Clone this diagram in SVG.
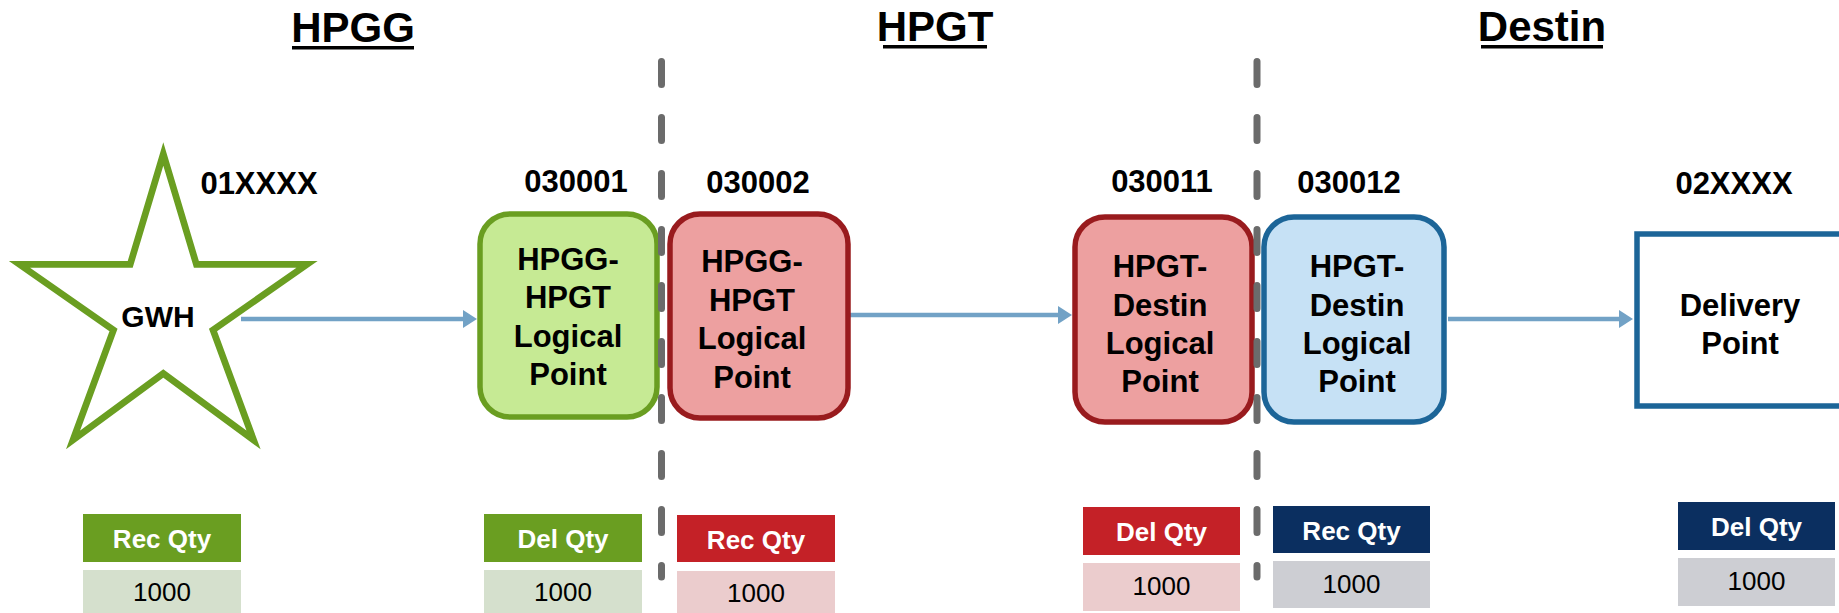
<svg xmlns="http://www.w3.org/2000/svg" width="1839" height="613" viewBox="0 0 1839 613">
<style>
text{font-family:"Liberation Sans",Arial,sans-serif;fill:#000}
.title{font-size:42px;font-weight:bold;text-anchor:middle}
.code{font-size:31px;font-weight:bold;text-anchor:middle}
.node{font-size:31px;font-weight:bold;text-anchor:middle}
.hdr{font-size:26px;font-weight:bold;text-anchor:middle;fill:#fff}
.val{font-size:26px;text-anchor:middle}
.ul{fill:#000}
.conn{stroke:#72a2c6;stroke-width:4.5;fill:none}
.sep{stroke:#6b6b6b;stroke-width:7;stroke-linecap:round;stroke-dasharray:23 33;fill:none}
</style>
<defs>
<marker id="arr" markerUnits="userSpaceOnUse" markerWidth="14" markerHeight="18" refX="2" refY="9" orient="auto">
<path d="M0,0 L14,9 L0,18 Z" fill="#72a2c6"/>
</marker>
</defs>
<rect width="1839" height="613" fill="#fff"/>

<g id="titles">
<text class="title" x="353" y="42">HPGG</text>
<rect class="ul" x="292" y="46" width="122" height="3.5"/>
<text class="title" x="935" y="41">HPGT</text>
<rect class="ul" x="883" y="45" width="104" height="3.5"/>
<text class="title" x="1542" y="41">Destin</text>
<rect class="ul" x="1481" y="45" width="122" height="3.5"/>
</g>

<g id="connectors">
<line class="conn" x1="241" y1="319" x2="465" y2="319" marker-end="url(#arr)"/>
<line class="conn" x1="849" y1="315" x2="1060" y2="315" marker-end="url(#arr)"/>
<line class="conn" x1="1448" y1="319" x2="1621" y2="319" marker-end="url(#arr)"/>
</g>

<g id="node-gwh">
<polygon points="163.3,154 196.4,264.4 307,264.4 213,330 253.6,440 163.3,373.5 73,440 113.5,330 19.5,264.4 130.2,264.4" fill="#fff" stroke="#6a9e21" stroke-width="6.7"/>
<text class="node" x="158" y="327" style="font-size:30px">GWH</text>
<text class="code" x="259" y="194">01XXXX</text>
</g>

<g id="node-030001">
<rect x="480" y="214" width="177" height="203" rx="30" fill="#c6ea94" stroke="#6a9e21" stroke-width="5.5"/>
<text class="node" x="568" y="270">HPGG-</text>
<text class="node" x="568" y="308">HPGT</text>
<text class="node" x="568" y="347">Logical</text>
<text class="node" x="568" y="385">Point</text>
<text class="code" x="576" y="192">030001</text>
</g>

<g id="node-030002">
<rect x="670" y="214" width="178" height="204" rx="30" fill="#eda0a0" stroke="#991b1e" stroke-width="5.5"/>
<text class="node" x="752" y="272">HPGG-</text>
<text class="node" x="752" y="311">HPGT</text>
<text class="node" x="752" y="349">Logical</text>
<text class="node" x="752" y="388">Point</text>
<text class="code" x="758" y="193">030002</text>
</g>

<g id="node-030011">
<rect x="1075" y="217" width="177" height="205" rx="30" fill="#eda0a0" stroke="#991b1e" stroke-width="5.5"/>
<text class="node" x="1160" y="277">HPGT-</text>
<text class="node" x="1160" y="316">Destin</text>
<text class="node" x="1160" y="354">Logical</text>
<text class="node" x="1160" y="392">Point</text>
<text class="code" x="1162" y="192">030011</text>
</g>

<g id="node-030012">
<rect x="1264" y="217" width="180" height="205" rx="30" fill="#c6e1f5" stroke="#1c6598" stroke-width="5.5"/>
<text class="node" x="1357" y="277">HPGT-</text>
<text class="node" x="1357" y="316">Destin</text>
<text class="node" x="1357" y="354">Logical</text>
<text class="node" x="1357" y="392">Point</text>
<text class="code" x="1349" y="193">030012</text>
</g>

<g id="node-delivery">
<rect x="1637" y="234" width="260" height="172" fill="#fff" stroke="#1c6598" stroke-width="5.5"/>
<text class="node" x="1740" y="316">Delivery</text>
<text class="node" x="1740" y="354">Point</text>
<text class="code" x="1734" y="194">02XXXX</text>
</g>

<g id="separators">
<line class="sep" x1="661.5" y1="61.5" x2="661.5" y2="577"/>
<line class="sep" x1="1257" y1="61.5" x2="1257" y2="577"/>
</g>

<g id="qty-gwh">
<rect x="83" y="514" width="158" height="48" fill="#6a9e21"/>
<text class="hdr" x="162" y="548">Rec Qty</text>
<rect x="83" y="570" width="158" height="43" fill="#d5e0cd"/>
<text class="val" x="162" y="601">1000</text>
</g>
<g id="qty-030001">
<rect x="484" y="514" width="158" height="48" fill="#6a9e21"/>
<text class="hdr" x="563" y="548">Del Qty</text>
<rect x="484" y="570" width="158" height="43" fill="#d5e0cd"/>
<text class="val" x="563" y="601">1000</text>
</g>
<g id="qty-030002">
<rect x="677" y="515" width="158" height="47" fill="#c42127"/>
<text class="hdr" x="756" y="549">Rec Qty</text>
<rect x="677" y="571" width="158" height="42" fill="#ebcccd"/>
<text class="val" x="756" y="602">1000</text>
</g>
<g id="qty-030011">
<rect x="1083" y="507" width="157" height="48" fill="#c42127"/>
<text class="hdr" x="1161.5" y="541">Del Qty</text>
<rect x="1083" y="563" width="157" height="48" fill="#ebcccd"/>
<text class="val" x="1161.5" y="595">1000</text>
</g>
<g id="qty-030012">
<rect x="1273" y="506" width="157" height="47" fill="#0b2f60"/>
<text class="hdr" x="1351.5" y="540">Rec Qty</text>
<rect x="1273" y="561" width="157" height="47" fill="#cdced3"/>
<text class="val" x="1351.5" y="593">1000</text>
</g>
<g id="qty-delivery">
<rect x="1678" y="502" width="157" height="48" fill="#0b2f60"/>
<text class="hdr" x="1756.5" y="536">Del Qty</text>
<rect x="1678" y="558" width="157" height="48" fill="#cdced3"/>
<text class="val" x="1756.5" y="590">1000</text>
</g>
</svg>
